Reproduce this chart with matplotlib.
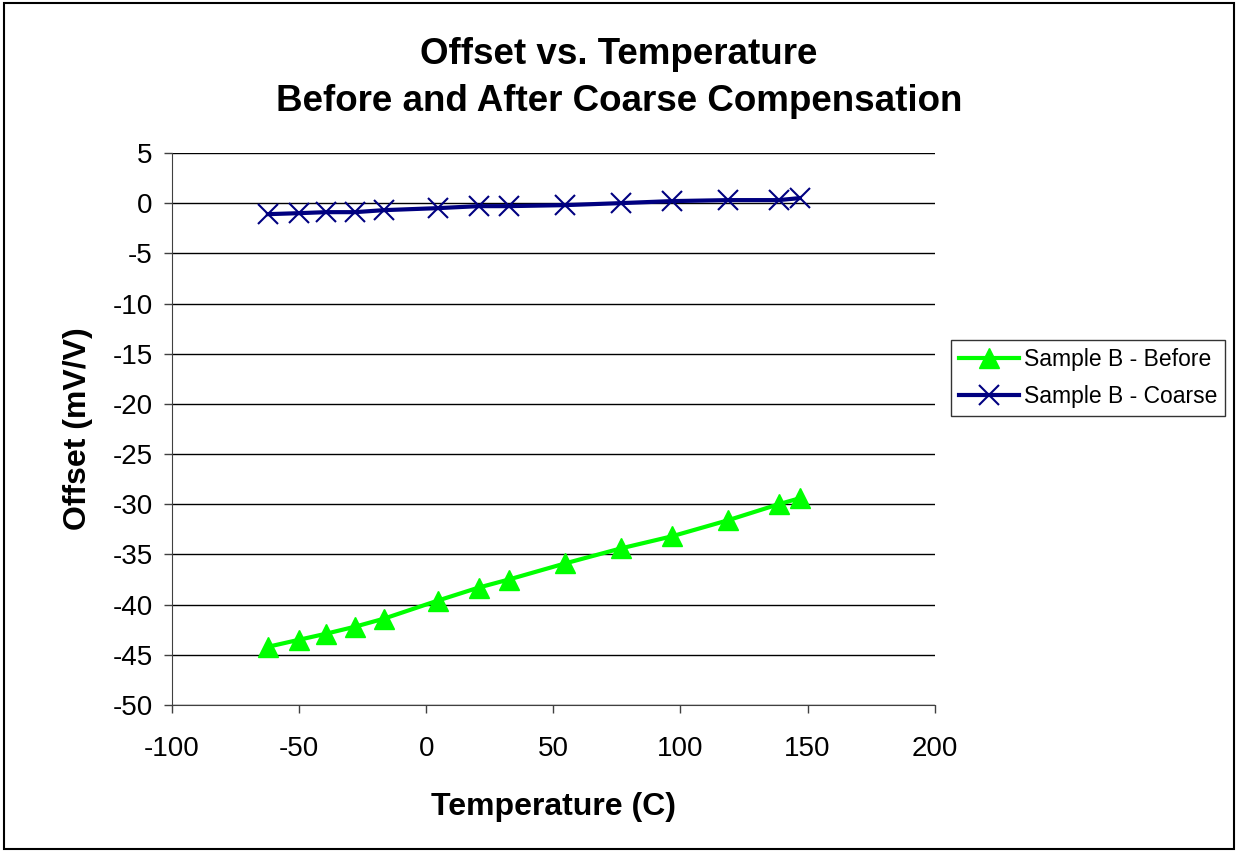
import matplotlib
matplotlib.use("Agg")
import matplotlib.pyplot as plt
from matplotlib.patches import Rectangle

plt.rcParams['font.family'] = ['Liberation Sans', 'DejaVu Sans']
plt.rcParams['axes.unicode_minus'] = False

temp = [-62.3, -50.1, -39.5, -28.1, -16.7, 4.5, 20.6, 32.4, 54.5, 76.5, 96.5, 118.6, 138.6, 146.9]
before = [-44.2, -43.5, -42.9, -42.2, -41.4, -39.6, -38.3, -37.5, -35.9, -34.4, -33.2, -31.6, -30.0, -29.4]
coarse = [-1.1, -1.0, -0.9, -0.9, -0.7, -0.5, -0.3, -0.3, -0.2, 0.0, 0.2, 0.3, 0.3, 0.5]

fig = plt.figure(figsize=(12.38, 8.52), dpi=100)
ax = fig.add_axes([0.139, 0.1725, 0.616, 0.648])

ax.plot(temp, before, color='#00ff00', lw=3, marker='^', markersize=14,
        label='Sample B - Before', clip_on=False, zorder=3)
ax.plot(temp, coarse, color='#000080', lw=3, marker='x', markersize=14,
        markeredgewidth=1.5, label='Sample B - Coarse', clip_on=False, zorder=3)

ax.set_xlim(-100, 200)
ax.set_ylim(-50, 5)
ax.set_xticks(range(-100, 201, 50))
ax.set_yticks(range(-50, 6, 5))
ax.yaxis.grid(True, color='black', lw=1)
ax.set_axisbelow(True)
for s in ['top', 'right']:
    ax.spines[s].set_visible(False)
ax.spines['left'].set_color('#404040')
ax.spines['bottom'].set_color('#404040')
ax.tick_params(axis='both', labelsize=20, direction='out', length=6, width=1, color='#404040')
ax.tick_params(axis='x', pad=16)
ax.tick_params(axis='y', pad=8)

ax.set_xlabel('Temperature (C)', fontsize=23, fontweight='bold', labelpad=22)
ax.set_ylabel('Offset (mV/V)', fontsize=23, fontweight='bold', labelpad=14)
fig.suptitle('Offset vs. Temperature\nBefore and After Coarse Compensation',
             fontsize=26.5, fontweight='bold', y=0.956, linespacing=1.42)

leg = ax.legend(loc='center left', bbox_to_anchor=(1.022, 0.592), fontsize=16.5,
                frameon=True, fancybox=False, edgecolor='black', handlelength=2.6,
                borderpad=0.35, labelspacing=0.6, handletextpad=0.2, borderaxespad=0)
leg.get_frame().set_linewidth(1)

fig.patches.append(Rectangle((0.003, 0.003), 0.994, 0.994, transform=fig.transFigure,
                             fill=False, edgecolor='black', lw=1.5))

fig.savefig('out.png', dpi=100)
